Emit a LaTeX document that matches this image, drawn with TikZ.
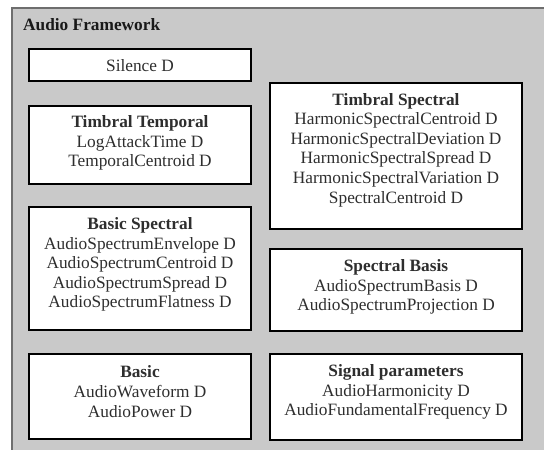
\documentclass[tikz,border=0pt]{standalone}
\usepackage{fontspec}
\setmainfont{Liberation Serif}
\definecolor{panelgray}{HTML}{C9C9C9}
\definecolor{framegray}{HTML}{6E6E6E}
\definecolor{txtgray}{HTML}{2E2E2E}
\tikzset{
  catbox/.style={draw=black, line width=2pt, fill=white, rectangle, inner sep=0pt},
  cattext/.style={align=center, inner sep=0pt, text=txtgray, font=\fontsize{17.3}{19.6}\selectfont},
  titletext/.style={anchor=west, inner sep=0pt, text=black!90, font=\fontsize{17.3}{19.6}\selectfont\bfseries}
}
\begin{document}
\begin{tikzpicture}[x=1pt,y=-1pt]
\useasboundingbox (0,0) rectangle (544,450);
\fill[white] (0,0) rectangle (544,450);
\begin{scope}
\clip (0,0) rectangle (544,450);
\node[draw=framegray, line width=2pt, fill=panelgray, rectangle, inner sep=0pt,
      minimum width=560pt, minimum height=460pt, anchor=north west] (frame) at (11,7) {};
\end{scope}
\node[titletext] (title) at (23,25) {Audio Framework};

% left column
\node[catbox, minimum width=222pt, minimum height=32pt] (silence) at (140,65) {};
\node[cattext] (silence-t) at ([yshift=-0.5pt]silence.center) {Silence D};

\node[catbox, minimum width=222pt, minimum height=78pt] (tt) at (140,145) {};
\node[cattext] (tt-t) at ([yshift=2pt]tt.center) {\textbf{Timbral Temporal}\\LogAttackTime D\\TemporalCentroid D};

\node[catbox, minimum width=222pt, minimum height=123pt] (bs) at (140,268.5) {};
\node[cattext] (bs-t) at ([yshift=4pt]bs.center) {\textbf{Basic Spectral}\\AudioSpectrumEnvelope D\\AudioSpectrumCentroid D\\AudioSpectrumSpread D\\AudioSpectrumFlatness D};

\node[catbox, minimum width=222pt, minimum height=85pt] (basic) at (140,396.5) {};
\node[cattext] (basic-t) at ([yshift=5pt]basic.center) {\textbf{Basic}\\AudioWaveform D\\AudioPower D};

% right column
\node[catbox, minimum width=252pt, minimum height=146pt] (ts) at (396,156) {};
\node[cattext] (ts-t) at ([yshift=6pt]ts.center) {\textbf{Timbral Spectral}\\HarmonicSpectralCentroid D\\HarmonicSpectralDeviation D\\HarmonicSpectralSpread D\\HarmonicSpectralVariation D\\SpectralCentroid D};

\node[catbox, minimum width=252pt, minimum height=82pt] (sb) at (396,290) {};
\node[cattext] (sb-t) at ([yshift=3pt]sb.center) {\textbf{Spectral Basis}\\AudioSpectrumBasis D\\AudioSpectrumProjection D};

\node[catbox, minimum width=252pt, minimum height=86pt] (sp) at (396,397) {};
\node[cattext] (sp-t) at ([yshift=5pt]sp.center) {\textbf{Signal parameters}\\AudioHarmonicity D\\AudioFundamentalFrequency D};
\end{tikzpicture}
\end{document}
